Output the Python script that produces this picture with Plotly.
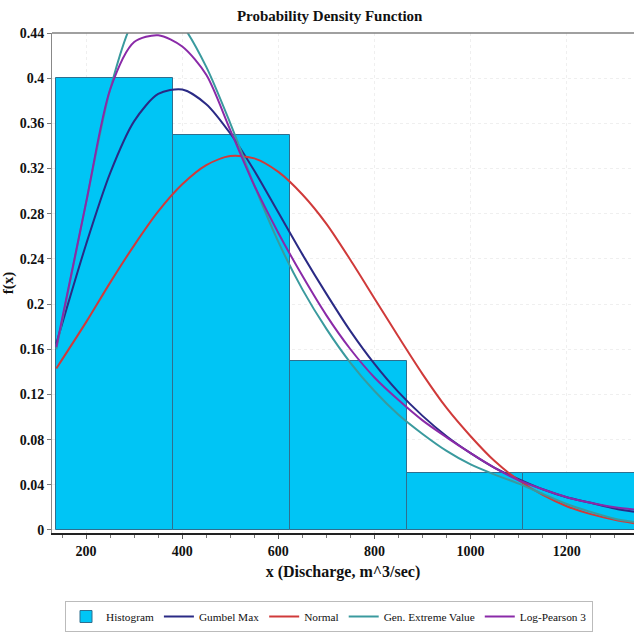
import plotly.graph_objects as go

# Histogram
bin_edges = [138, 381, 624, 867, 1110, 1353]
hist_values = [0.40, 0.35, 0.15, 0.05, 0.05]

# Fitted density curves
x_pts = [138, 200, 250, 300, 350, 400, 450, 500, 550, 600, 650, 700, 750,
         800, 850, 900, 950, 1000, 1050, 1100, 1150, 1200, 1250, 1300, 1340]
gumbel_max = [0.165, 0.253, 0.316, 0.362, 0.386, 0.390, 0.377, 0.351, 0.318, 0.281,
              0.244, 0.209, 0.176, 0.147, 0.122, 0.101, 0.083, 0.068, 0.055, 0.045,
              0.036, 0.029, 0.024, 0.019, 0.016]
normal = [0.143, 0.184, 0.219, 0.252, 0.282, 0.306, 0.323, 0.331, 0.329, 0.317,
          0.297, 0.271, 0.239, 0.205, 0.171, 0.138, 0.108, 0.083, 0.061, 0.044,
          0.031, 0.021, 0.014, 0.009, 0.006]
gen_extreme = [0.160, 0.290, 0.390, 0.452, 0.468, 0.447, 0.410, 0.360, 0.305, 0.255,
               0.213, 0.178, 0.148, 0.123, 0.102, 0.085, 0.070, 0.058, 0.049, 0.041,
               0.032, 0.023, 0.016, 0.010, 0.007]
log_pearson3 = [0.162, 0.290, 0.390, 0.432, 0.438, 0.428, 0.403, 0.354, 0.305, 0.263,
                0.225, 0.190, 0.160, 0.135, 0.115, 0.097, 0.082, 0.068, 0.055, 0.044,
                0.036, 0.029, 0.024, 0.020, 0.018]

x_ticks = [200, 400, 600, 800, 1000, 1200]
y_ticks = [0, 0.04, 0.08, 0.12, 0.16, 0.2, 0.24, 0.28, 0.32, 0.36, 0.4, 0.44]
y_tick_text = ["0", "0.04", "0.08", "0.12", "0.16", "0.2", "0.24", "0.28",
               "0.32", "0.36", "0.4", "0.44"]

FONT = "Liberation Serif, Times New Roman, serif"

centers = [(bin_edges[i] + bin_edges[i + 1]) / 2 for i in range(len(hist_values))]
widths = [bin_edges[i + 1] - bin_edges[i] for i in range(len(hist_values))]

fig = go.Figure()
fig.add_trace(go.Bar(
    x=centers, y=hist_values, width=widths, name="Histogram",
    marker=dict(color="#00C5F5", line=dict(color="#2F6F8F", width=1)),
))
curves = [
    ("Gumbel Max", gumbel_max, "#2A2A85"),
    ("Normal", normal, "#D03A3A"),
    ("Gen. Extreme Value", gen_extreme, "#3A9A9E"),
    ("Log-Pearson 3", log_pearson3, "#8A2AA8"),
]
for name, ys, col in curves:
    fig.add_trace(go.Scatter(
        x=x_pts, y=ys, mode="lines", name=name,
        line=dict(color=col, width=2, shape="spline", smoothing=0.8),
    ))

fig.update_layout(
    width=634, height=633,
    margin=dict(l=52, r=0, t=33, b=100, autoexpand=False),
    paper_bgcolor="white", plot_bgcolor="white",
    bargap=0,
    font=dict(family=FONT, size=13, color="#111111"),
    title=dict(text="<b>Probability Density Function</b>", x=0.52, xanchor="center",
               yref="container", y=0.975, yanchor="middle",
               font=dict(family=FONT, size=15, color="#111111")),
    xaxis=dict(
        range=[129, 1340], tickvals=x_ticks, ticktext=[f"<b>{v}</b>" for v in x_ticks],
        automargin=False,
        showgrid=True, gridcolor="#EFEFEF", griddash="dot", zeroline=False,
        showline=True, linecolor="#222222", linewidth=2,
        ticks="outside", ticklen=4, tickcolor="#555555",
        minor=dict(dtick=50, ticks="outside", ticklen=3, tickcolor="#777777", showgrid=False),
        tickfont=dict(family=FONT, size=14),
        title=dict(text="<b>x (Discharge, m^3/sec)</b>", standoff=8,
                   font=dict(family=FONT, size=16)),
    ),
    yaxis=dict(
        range=[-0.0027, 0.44], tickvals=y_ticks, ticktext=[f"<b>{t}</b>" for t in y_tick_text],
        automargin=False,
        showgrid=True, gridcolor="#EFEFEF", griddash="dot", zeroline=False,
        showline=True, linecolor="#888888", linewidth=1,
        ticks="outside", ticklen=4, tickcolor="#777777",
        tickfont=dict(family=FONT, size=14),
        title=dict(text="<b>f(x)</b>", standoff=6, font=dict(family=FONT, size=15)),
    ),
    legend=dict(
        orientation="h", xref="container", x=65 / 634, xanchor="left",
        yref="container", y=1 - 601 / 633, yanchor="top",
        bgcolor="white", bordercolor="#BBBBBB", borderwidth=1,
        font=dict(family=FONT, size=11.3, color="#111111"),
        itemwidth=30, tracegroupgap=0,
    ),
    showlegend=True,
)
fig.add_shape(type="line", xref="paper", yref="paper", x0=0, x1=1, y0=1, y1=1,
              line=dict(color="#808080", width=1.5))

fig.write_html("out.html", config={"displayModeBar": False},
               post_script="document.body.style.margin='0';document.body.style.overflow='hidden';")
